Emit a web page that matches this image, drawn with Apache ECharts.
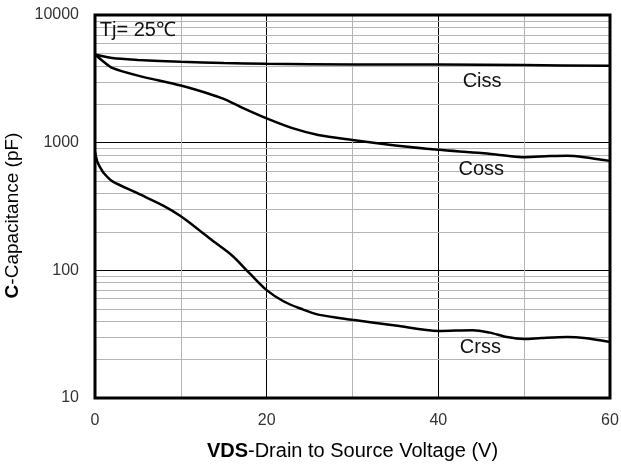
<!DOCTYPE html>
<html>
<head>
<meta charset="utf-8">
<script src="https://cdn.jsdelivr.net/npm/echarts@6/dist/echarts.min.js"></script>
<style>html,body{margin:0;padding:0;background:#fff}#c{width:621px;height:466px}</style>
</head>
<body>
<div id="c"></div>
<script>
// Drain-source voltage (V)
const cissV = [0, 2, 5, 10, 15, 20, 30, 40, 50, 60];
const cissC = [4900, 4600, 4450, 4300, 4200, 4150, 4100, 4100, 4050, 4000];

const cossV = [0, 1, 2, 5, 10, 13, 15, 17, 20, 23, 26, 30, 35, 40, 45, 48, 50, 53, 55, 57, 60];
const cossC = [4900, 4300, 3850, 3350, 2800, 2450, 2200, 1900, 1550, 1300, 1150, 1050, 950, 880, 830, 790, 770, 785, 790, 770, 720];

const crssV = [0, 0.3, 0.6, 1, 2, 5, 8, 10, 12, 14, 16, 18, 20, 22, 24, 26, 30, 35, 40, 44, 46, 48, 50, 52, 55, 57, 60];
const crssC = [850, 700, 640, 580, 500, 400, 320, 265, 210, 165, 130, 95, 70, 57, 50, 45, 41, 37, 33.5, 34, 32.5, 30, 29, 29.5, 30, 29.5, 27.5];

const yTicks = [10, 100, 1000, 10000];
const xTicks = [0, 20, 40, 60];
const minorGridY = [20,30,40,50,60,70,80,90,200,300,400,500,600,700,800,900,2000,3000,4000,5000,6000,7000,8000,9000];

// curve labels [x, y, text]
const curveLabels = [
  [45.1, 3000, 'Ciss'],
  [45.0, 614, 'Coss'],
  [44.9, 24.8, 'Crss'],
  [5.0, 7630, 'Tj= 25℃']
];

const font = '"Liberation Sans", Arial, sans-serif';
const zip = (a, b) => a.map((v, i) => [v, b[i]]);

const lineStyle = {color: '#000', width: 2.5};
const chart = echarts.init(document.getElementById('c'));
chart.setOption({
  animation: false,
  grid: {left: 95, right: 11, top: 15, bottom: 68, show: true, borderColor: '#000', borderWidth: 3, backgroundColor: 'transparent', z: 10, containLabel: false, outerBoundsMode: 'none'},
  xAxis: {
    type: 'value', min: 0, max: 60, interval: 20,
    axisLine: {show: false}, axisTick: {show: false},
    axisLabel: {color: '#333', fontSize: 16, fontFamily: font, margin: 15},
    splitLine: {show: true, lineStyle: {color: '#000', width: 1}},
    minorTick: {show: false, splitNumber: 2},
    minorSplitLine: {show: true, lineStyle: {color: '#b4b4b4', width: 1}},
    name: '{b|VDS}-Drain to Source Voltage (V)',
    nameLocation: 'middle', nameGap: 43,
    nameTextStyle: {color: '#000', fontSize: 20, fontFamily: font, rich: {b: {fontWeight: 'bold', fontSize: 20, fontFamily: font, color: '#000'}}}
  },
  yAxis: {
    type: 'log', logBase: 10, min: 10, max: 10000,
    axisLine: {show: false}, axisTick: {show: false},
    axisLabel: {color: '#333', fontSize: 16, fontFamily: font, margin: 16, formatter: v => String(Math.round(v))},
    splitLine: {show: true, lineStyle: {color: '#000', width: 1}},
    name: '{b|C}-Capacitance (pF)',
    nameLocation: 'middle', nameGap: 73,
    nameTextStyle: {color: '#000', fontSize: 19, fontFamily: font, padding: [0, 18, 0, 0], rich: {b: {fontWeight: 'bold', fontSize: 19, fontFamily: font, color: '#000'}}}
  },
  series: [
    {
      type: 'line', data: zip(cissV, cissC), showSymbol: false, smooth: 0.3, lineStyle, z: 5,
      markLine: {
        silent: true, symbol: 'none', label: {show: false},
        lineStyle: {color: '#b4b4b4', width: 1, type: 'solid'},
        data: minorGridY.map(v => ({yAxis: v})), z: 1
      },
      markPoint: {
        symbol: 'circle', symbolSize: 1, silent: true,
        itemStyle: {color: 'rgba(0,0,0,0)'},
        label: {show: true, position: 'inside', color: '#111', fontSize: 20, fontFamily: font, formatter: p => p.name},
        data: curveLabels.map(l => ({coord: [l[0], l[1]], name: l[2]}))
      }
    },
    {type: 'line', data: zip(cossV, cossC), showSymbol: false, smooth: 0.3, lineStyle, z: 5},
    {type: 'line', data: zip(crssV, crssC), showSymbol: false, smooth: 0.3, lineStyle, z: 5}
  ]
});
</script>
</body>
</html>
